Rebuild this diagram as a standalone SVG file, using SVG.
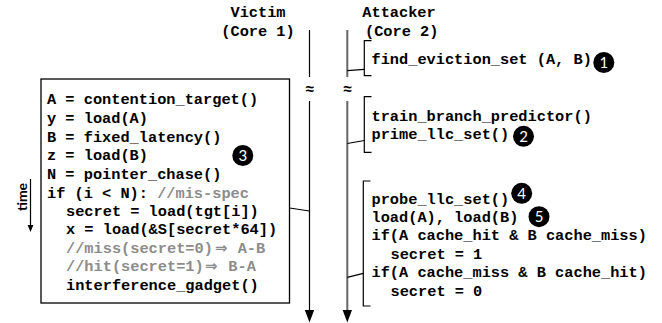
<svg xmlns="http://www.w3.org/2000/svg" width="662" height="323" viewBox="0 0 662 323">
<style>
.code{font-family:"Liberation Mono","Courier New",monospace;font-weight:bold;font-size:15.3px;fill:#000}
.cm{fill:#8c8c8c}
.arr{font-family:"DejaVu Sans",sans-serif;font-size:15px;font-weight:bold}
.num{font-family:Lato,"Liberation Sans",sans-serif;font-size:15px;fill:#fff;text-anchor:middle}
.br{fill:none;stroke:#000;stroke-width:1.2}
.ln{stroke:#000;stroke-width:1.2}
</style>
<rect width="662" height="323" fill="#fff"/>
<g id="headers">
<text class="code" x="258" y="17" text-anchor="middle">Victim</text>
<text class="code" x="258" y="35.5" text-anchor="middle">(Core 1)</text>
<text class="code" x="362.3" y="17">Attacker</text>
<text class="code" x="365" y="35.5">(Core 2)</text>
</g>
<g id="timelines">
<line x1="309.5" y1="30" x2="309.5" y2="77" class="ln"/>
<line x1="309.5" y1="101" x2="309.5" y2="311" class="ln"/>
<polygon points="304.8,310 314.2,310 309.5,322.5" fill="#000"/>
<line x1="347.3" y1="30" x2="347.3" y2="77" stroke="#666" stroke-width="2"/>
<line x1="347.3" y1="101" x2="347.3" y2="311" stroke="#666" stroke-width="2"/>
<polygon points="342.6,310 352,310 347.3,322.5" fill="#000"/>
<text class="code" x="309.5" y="94" text-anchor="middle" font-size="13">≈</text>
<text class="code" x="347.3" y="94" text-anchor="middle" font-size="13">≈</text>
</g>
<g id="time">
<line x1="30.5" y1="179" x2="30.5" y2="226" class="ln"/>
<polygon points="27.6,225 33.4,225 30.5,232" fill="#000"/>
<text x="27" y="197" transform="rotate(-90 27 197)" text-anchor="middle" font-family="Lato,'Liberation Sans',sans-serif" font-weight="bold" font-size="14">time</text>
</g>
<g id="victim-box">
<rect x="41" y="79" width="248.5" height="224" fill="none" stroke="#000" stroke-width="1.3"/>
<text class="code" x="47" y="104.3">A = contention_target()</text>
<text class="code" x="47" y="123">y = load(A)</text>
<text class="code" x="47" y="141.7">B = fixed_latency()</text>
<text class="code" x="47" y="160.4">z = load(B)</text>
<text class="code" x="47" y="179">N = pointer_chase()</text>
<text class="code" x="47" y="197.7">if (i &lt; N): <tspan class="cm">//mis-spec</tspan></text>
<text class="code" x="66" y="215.5">secret = load(tgt[i])</text>
<text class="code" x="66" y="234">x = load(&amp;S[secret*64])</text>
<text class="code cm" x="66" y="252.7">//miss(secret=0)<tspan class="arr" x="215">⇒</tspan><tspan x="237.7">A-B</tspan></text>
<text class="code cm" x="66" y="271.4">//hit(secret=1)<tspan class="arr" x="205">⇒</tspan><tspan x="228.3">B-A</tspan></text>
<text class="code" x="66" y="290">interference_gadget()</text>
<circle cx="242.8" cy="155.5" r="10.5" fill="#000"/>
<text class="num" x="242.8" y="160.8">3</text>
</g>
<g id="step1">
<path class="br" d="M371.5,40.7 H364.3 V75.7 H371.5"/>
<text class="code" x="371.5" y="63.8">find_eviction_set (A, B)</text>
<circle cx="603.8" cy="62.5" r="10.5" fill="#000"/>
<text class="num" x="603.8" y="67.8">1</text>
</g>
<g id="step2">
<path class="br" d="M371.5,96.7 H364.3 V152.3 H371.5"/>
<text class="code" x="371.5" y="120.5">train_branch_predictor()</text>
<text class="code" x="371.5" y="138.8">prime_llc_set()</text>
<circle cx="523.5" cy="136.3" r="10.5" fill="#000"/>
<text class="num" x="523.5" y="141.6">2</text>
</g>
<g id="step3">
<path class="br" d="M370.5,181 H363.3 V306 H370.5"/>
<text class="code" x="371.5" y="203.5">probe_llc_set()</text>
<text class="code" x="371.5" y="221.9">load(A), load(B)</text>
<text class="code" x="371.5" y="240.3">if(A cache_hit &amp; B cache_miss)</text>
<text class="code" x="390.5" y="258.8">secret = 1</text>
<text class="code" x="371.5" y="277.4">if(A cache_miss &amp; B cache_hit)</text>
<text class="code" x="390.5" y="295.8">secret = 0</text>
<circle cx="521.7" cy="193.3" r="10.5" fill="#000"/>
<text class="num" x="521.7" y="198.6">4</text>
<circle cx="539" cy="216.7" r="10.5" fill="#000"/>
<text class="num" x="539" y="222">5</text>
</g>
<g id="connectors">
<line class="ln" x1="347.3" y1="70.7" x2="364.3" y2="69.3"/>
<line class="ln" x1="347.3" y1="143.5" x2="364.3" y2="140.5"/>
<line class="ln" x1="347.3" y1="277.3" x2="363.3" y2="273.3"/>
<line class="ln" x1="289.5" y1="208" x2="309.5" y2="211"/>
</g>
</svg>
